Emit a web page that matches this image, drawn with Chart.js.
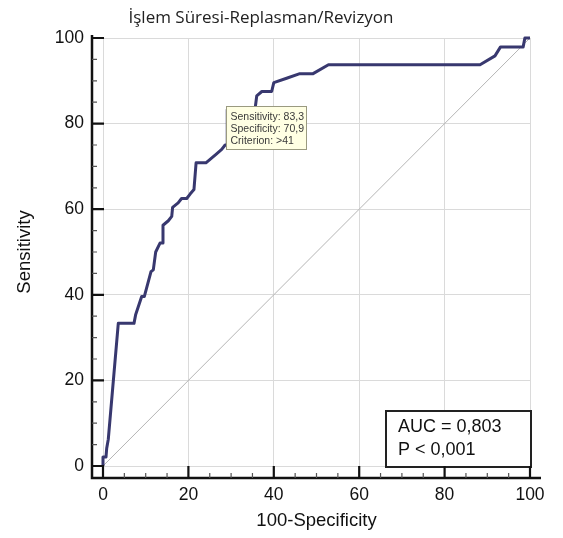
<!DOCTYPE html>
<html>
<head>
<meta charset="utf-8">
<script src="https://cdn.jsdelivr.net/npm/chart.js@4.4.1/dist/chart.umd.min.js"></script>
<style>
  html, body { margin: 0; padding: 0; background: #ffffff; }
  #wrap { width: 563px; height: 538px; }
</style>
</head>
<body>
<div id="wrap"><canvas id="roc" width="563" height="538"></canvas></div>
<script>
// Titles
const chartTitle = 'İşlem Süresi-Replasman/Revizyon';
const xAxisTitle = '100-Specificity';
const yAxisTitle = 'Sensitivity';

// ROC curve vertices: 100-specificity (%) and sensitivity (%)
const fpr  = [0, 0, 0.7, 0.87, 1.24, 3.58, 7.26, 7.66, 9.06, 9.67,
              11.24, 11.78, 12.34, 13.35, 13.89, 14.05, 15.3, 16.1, 16.3, 17.6,
              18.4, 19.6, 20.4, 21.3, 21.8, 24.1, 26.6, 27.8, 28.6, 29.1,
              29.1, 35.6, 36.0, 37.2, 39.5, 40.0, 43.0, 46.1, 49.2, 52.8,
              88.3, 91.8, 93.1, 98.4, 98.8, 100];
const sens = [0, 2.08, 2.08, 4.17, 6.25, 33.33, 33.33, 35.42, 39.58, 39.58,
              45.4, 45.83, 50.0, 52.08, 52.08, 56.25, 57.3, 58.33, 60.42, 61.46,
              62.5, 62.5, 63.54, 64.58, 70.83, 70.83, 72.92, 73.96, 75.0, 75.0,
              83.3, 83.3, 86.46, 87.5, 87.5, 89.58, 90.6, 91.67, 91.67, 93.75,
              93.75, 95.83, 97.92, 97.92, 100, 100];

// Chance diagonal
const diagX = [0, 100];
const diagY = [0, 100];

// Optimal cut-off (index into the curve) and its criterion
const cutIndex = 30;
const cutCriterion = '>41';

// Summary statistics
const aucValue = 0.803;
const pValueText = 'P < 0,001';

// Axis ticks
const axisMin = 0, axisMax = 100, majorStep = 20, minorStep = 5;

const fmt = v => v.toFixed(1).replace('.', ',');
const curvePoints = fpr.map((x, i) => ({ x, y: sens[i] }));
const diagPoints = diagX.map((x, i) => ({ x, y: diagY[i] }));

const tickFont = { family: '"Liberation Sans", Arial, sans-serif', size: 17.5 };
const titleFont = { family: '"Liberation Sans", Arial, sans-serif', size: 18.5 };

function tightFit(width, height) {
  return scale => {
    if (width !== null) scale.width = width;
    if (height !== null) scale.height = height;
    scale.paddingLeft = 0; scale.paddingRight = 0;
    scale.paddingTop = 0; scale.paddingBottom = 0;
  };
}

// Draws the offset axis frame with major/minor ticks, the cut-off note and the AUC box
const rocDecor = {
  id: 'rocDecor',
  afterDatasetsDraw(chart) {
    const { ctx, scales: { x, y } } = chart;

    // Cut-off note
    const px = x.getPixelForValue(fpr[cutIndex]);
    const py = y.getPixelForValue(sens[cutIndex]);
    const bx = Math.round(px - 1) + 0.5, by = Math.round(py - 3) + 0.5;
    const bw = 80, bh = 43;
    ctx.save();
    ctx.fillStyle = '#ffffe3';
    ctx.strokeStyle = '#9a9a80';
    ctx.lineWidth = 1;
    ctx.fillRect(bx, by, bw, bh);
    ctx.strokeRect(bx, by, bw, bh);
    ctx.fillStyle = '#3a3a3a';
    ctx.font = '10.5px "Liberation Sans", Arial, sans-serif';
    ctx.textAlign = 'left';
    ctx.textBaseline = 'middle';
    const lines = [
      'Sensitivity: ' + fmt(sens[cutIndex]),
      'Specificity: ' + fmt(100 - fpr[cutIndex]),
      'Criterion: ' + cutCriterion
    ];
    lines.forEach((t, i) => ctx.fillText(t, bx + 4, by + 11 + i * 11.8));
    ctx.restore();

    // AUC box anchored to the lower-right corner of the plot
    const rx = x.getPixelForValue(axisMax) + 1;
    const ry = y.getPixelForValue(axisMin) + 1;
    const aw = 145, ah = 56;
    ctx.save();
    ctx.fillStyle = '#ffffff';
    ctx.fillRect(rx - aw, ry - ah, aw, ah);
    ctx.strokeStyle = '#222222';
    ctx.lineWidth = 2;
    ctx.strokeRect(rx - aw, ry - ah, aw, ah);
    ctx.fillStyle = '#111111';
    ctx.font = '18px "Liberation Sans", Arial, sans-serif';
    ctx.textAlign = 'left';
    ctx.textBaseline = 'middle';
    ctx.fillText('AUC = ' + aucValue.toFixed(3).replace('.', ','), rx - aw + 12, ry - ah + 16);
    ctx.fillText(pValueText, rx - aw + 12, ry - ah + 39);
    ctx.restore();
  },
  afterDraw(chart) {
    const { ctx, chartArea: a, scales: { x, y } } = chart;
    const axX = a.left - 11;
    const axY = a.bottom + 12;
    ctx.save();
    ctx.strokeStyle = '#111111';
    ctx.lineWidth = 2.5;
    ctx.beginPath();
    ctx.moveTo(axX, a.top - 3);
    ctx.lineTo(axX, axY);
    ctx.lineTo(a.right + 11, axY);
    ctx.stroke();

    for (let v = axisMin; v <= axisMax; v += minorStep) {
      const major = v % majorStep === 0;
      const len = major ? 12 : 5;
      ctx.lineWidth = major ? 2.2 : 1.2;
      ctx.strokeStyle = major ? '#111111' : '#555555';
      const tx = x.getPixelForValue(v);
      const ty = y.getPixelForValue(v);
      ctx.beginPath();
      ctx.moveTo(tx, axY);
      ctx.lineTo(tx, axY - len);
      ctx.moveTo(axX, ty);
      ctx.lineTo(axX + len, ty);
      ctx.stroke();
    }

    // Chart heading
    ctx.fillStyle = '#222222';
    ctx.font = '17px "Open Sans", "Noto Sans", sans-serif';
    ctx.textAlign = 'center';
    ctx.textBaseline = 'middle';
    ctx.fillText(chartTitle, 261, 18);
    ctx.restore();
  }
};

new Chart(document.getElementById('roc'), {
  type: 'scatter',
  data: {
    datasets: [
      {
        data: diagPoints,
        showLine: true,
        borderColor: '#b5b5b5',
        borderWidth: 1,
        pointRadius: 0,
        order: 2
      },
      {
        data: curvePoints,
        showLine: true,
        borderColor: '#38386f',
        borderWidth: 3,
        pointRadius: 0,
        tension: 0,
        clip: false,
        borderJoinStyle: 'round',
        order: 1
      }
    ]
  },
  options: {
    responsive: false,
    animation: false,
    events: [],
    layout: { padding: { left: 0, right: 33, top: 38, bottom: 0 } },
    plugins: {
      legend: { display: false },
      tooltip: { enabled: false },
      title: { display: false }
    },
    scales: {
      x: {
        type: 'linear',
        min: axisMin, max: axisMax,
        afterFit: tightFit(null, 72),
        grid: { color: '#dadada', lineWidth: 1, drawTicks: false },
        border: { display: false },
        ticks: { stepSize: majorStep, padding: 18.5, color: '#111111', font: tickFont, maxRotation: 0 },
        title: { display: true, text: xAxisTitle, color: '#111111', font: titleFont, padding: { top: 0, bottom: 6 } }
      },
      y: {
        type: 'linear',
        min: axisMin, max: axisMax,
        afterFit: tightFit(103, null),
        grid: { color: '#dadada', lineWidth: 1, drawTicks: false },
        border: { display: false },
        ticks: { stepSize: majorStep, padding: 19, color: '#111111', font: tickFont },
        title: { display: true, text: yAxisTitle, color: '#111111', font: titleFont, padding: { top: 14, bottom: 0 } }
      }
    }
  },
  plugins: [rocDecor]
});
</script>
</body>
</html>
